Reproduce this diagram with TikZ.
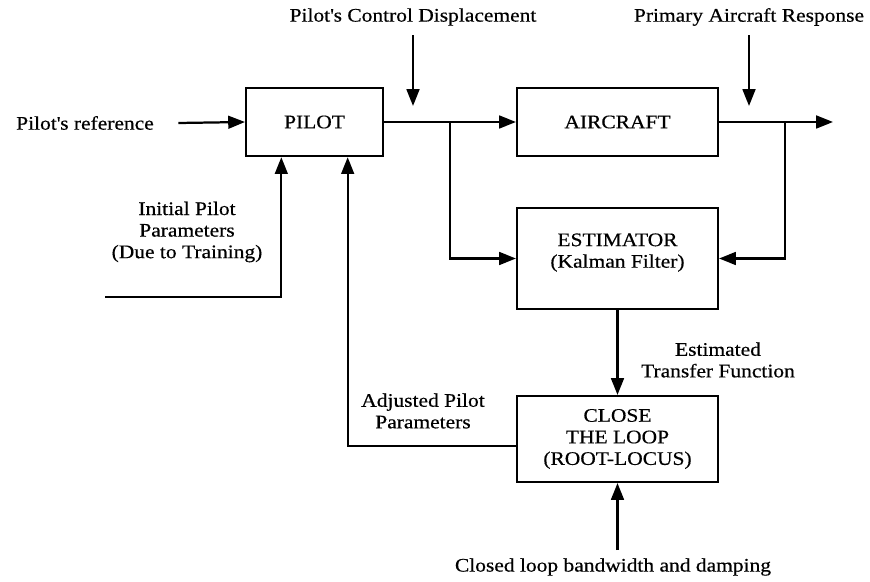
\documentclass[tikz,border=0pt]{standalone}
\usepackage{fontspec}
\setmainfont{Liberation Serif}[FakeStretch=1.12,FakeBold=0.5]
\usetikzlibrary{arrows.meta,positioning,calc}

\begin{document}
\begin{tikzpicture}[x=0.022cm,y=-0.022cm,font=\fontsize{12}{13.5}\selectfont,
    blk/.style={draw,line width=1.4pt,minimum width=4.42cm,minimum height=1.5cm,align=center,inner sep=2pt},
    arr/.style={line width=1.4pt,-{Triangle[length=10.5pt,width=8pt]}},
    lbl/.style={align=center,inner sep=1pt}]
  \useasboundingbox (0,0) rectangle (870,582);
  % blocks
  \node[blk,minimum width=3.01cm] (pilot) at (314.5,122) {PILOT};
  \node[blk] (air) at (617.5,122) {AIRCRAFT};
  \node[blk,minimum height=2.22cm,
    label={[lbl,yshift=0.13cm]center:{ESTIMATOR\\(Kalman Filter)}}] (est) at (617.5,258.5) {};
  \node[blk,minimum height=1.89cm] (close) at (617.5,439) {CLOSE\\THE LOOP\\(ROOT-LOCUS)};
  % inputs from above
  \foreach \n/\x/\t in {pcd/413/{Pilot\textquotesingle s Control Displacement},par/749/{Primary Aircraft Response}}{%
    \node[lbl] (\n) at (\x,17) {\t};
    \coordinate (\n tip) at (\x,106);
    \draw[arr] ([yshift=-0.17cm]\n.south) -- (\n tip);
  }
  % main path
  \node[lbl] (ref) at (85,123) {Pilot\textquotesingle s reference};
  \draw[arr] ([xshift=0.5cm]ref.east) -- (pilot.west);
  \draw[arr] (pilot.east) -- (air.west);
  \coordinate (out) at (833,122);
  \draw[arr] (air.east) -- (out);
  \coordinate (bl) at (450,122);
  \coordinate (br) at (785,122);
  \draw[arr] (bl) |- (est.west);
  \draw[arr] (br) |- (est.east);
  \draw[arr] (est.south) -- (close.north);
  \node[lbl] (etf) at (718,360) {Estimated\\Transfer Function};
  % pilot parameters
  \node[lbl] (ipp) at (187,232) {Initial Pilot\\Parameters\\(Due to Training)};
  \coordinate (ini) at (105,297);
  \draw[arr] (ini) -| ([xshift=-0.73cm]pilot.south);
  \node[lbl] (app) at (423,411) {Adjusted Pilot\\Parameters};
  \draw[arr] ([yshift=-0.15cm]close.west) -| ([xshift=0.73cm]pilot.south);
  % bandwidth input
  \node[lbl] (cbd) at (613,567) {Closed loop bandwidth and damping};
  \coordinate (cbdtail) at (617.5,550);
  \draw[arr] (cbdtail) -- (close.south);
\end{tikzpicture}
\end{document}
